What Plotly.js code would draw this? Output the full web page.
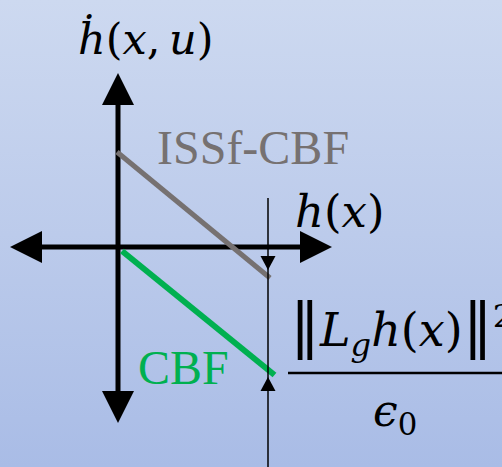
<!DOCTYPE html>
<html>
<head>
<meta charset="utf-8">
<script src="https://cdn.plot.ly/plotly-3.0.1.min.js"></script>
<style>
  html, body { margin: 0; padding: 0; }
  body { width: 502px; height: 467px; overflow: hidden;
         background: linear-gradient(to bottom, #cdd9f0 0%, #bccbeb 50%, #a9bce6 100%); }
  #chart { width: 502px; height: 467px; }
</style>
</head>
<body>
<div id="chart"></div>
<script>
// Phase-plane sketch: h(x) on the horizontal axis, its time derivative on the vertical.
// One unit on either axis is 100 px at this size.

// coordinate axes (tip to tip)
const hAxisX = [-1.08, 2.14];
const vAxisY = [-1.76, 1.74];

// lower bound on dh/dt as a function of h, for each condition
const issfX = [-0.01, 1.52];
const issfY = [0.95, -0.31];
const cbfX  = [0.04, 1.565];
const cbfY  = [-0.04, -1.28];

// marker line for a given h, with the gap between the two bounds
const markX = 1.50;
const markY = [0.49, -2.30];
const gapTop = -0.23;    // tip of the downward arrow
const gapBottom = -1.30; // tip of the upward arrow

// labels
const labelDeriv = '<i>ḣ</i>(<i>x</i>,\u2009<i>u</i>)';
const labelH = '<i>h</i>(<i>x</i>)';
const labelIssf = 'ISSf-CBF';
const labelCbf = 'CBF';
const bars = '<span style="font-size:60px">‖</span>';
const fracNum = bars + '<i>L</i><sub><i>g</i></sub><i>h</i>(<i>x</i>)' + bars + '<sup>2</sup>';
const fracDen = '<i>ϵ</i><sub>0</sub>';

const HEAD_LEN = 0.32, HEAD_HW = 0.16;      // axis arrowheads
const SMALL_LEN = 0.14, SMALL_HW = 0.075;   // gap arrowheads

function tri(tx, ty, dx, dy, len, hw) {
  // arrowhead with its tip at (tx,ty) pointing along (dx,dy)
  const bx = tx - dx * len, by = ty - dy * len;
  const px = -dy * hw, py = dx * hw;
  return {
    type: 'path', xref: 'x', yref: 'y',
    path: `M${tx},${ty} L${bx + px},${by + py} L${bx - px},${by - py} Z`,
    fillcolor: '#000', line: {width: 0}, layer: 'above'
  };
}

const black = '#000000';
const traces = [
  // horizontal axis shaft
  {x: [hAxisX[0] + HEAD_LEN, hAxisX[1] - HEAD_LEN], y: [0, 0], mode: 'lines',
   line: {color: black, width: 5}},
  // vertical axis shaft
  {x: [0, 0], y: [vAxisY[0] + HEAD_LEN, vAxisY[1] - HEAD_LEN], mode: 'lines',
   line: {color: black, width: 5}},
  // ISSf-CBF bound
  {x: issfX, y: issfY, mode: 'lines', line: {color: '#767171', width: 5}},
  // CBF bound
  {x: cbfX, y: cbfY, mode: 'lines', line: {color: '#00b050', width: 6}},
  // marker line
  {x: [markX, markX], y: markY, mode: 'lines', line: {color: black, width: 1.5}}
];

const shapes = [
  tri(hAxisX[0], 0, -1, 0, HEAD_LEN, HEAD_HW),
  tri(hAxisX[1], 0, 1, 0, HEAD_LEN, HEAD_HW),
  tri(0, vAxisY[1], 0, 1, HEAD_LEN, HEAD_HW),
  tri(0, vAxisY[0], 0, -1, HEAD_LEN, HEAD_HW),
  tri(markX, gapTop, 0, -1, SMALL_LEN, SMALL_HW),
  tri(markX, gapBottom, 0, 1, SMALL_LEN, SMALL_HW),
  // fraction bar
  {type: 'line', xref: 'x', yref: 'y', x0: 1.70, x1: 3.90, y0: -1.26, y1: -1.26,
   line: {color: black, width: 2.5}}
];

const mathFont = {family: 'DejaVu Serif', color: black};
const textFont = {family: 'Liberation Serif', size: 48};

const annotations = [
  {x: 0.28, y: 2.08, text: labelDeriv, font: Object.assign({size: 43}, mathFont)},
  {x: 2.22, y: 0.36, text: labelH, font: Object.assign({size: 45}, mathFont)},
  {x: 1.35, y: 1.00, text: labelIssf, font: Object.assign({color: '#767171'}, textFont)},
  {x: 0.65, y: -1.20, text: labelCbf, font: Object.assign({color: '#00b050'}, textFont)},
  {x: 1.70, y: -0.80, xanchor: 'left', text: fracNum, font: Object.assign({size: 46}, mathFont)},
  {x: 2.77, y: -1.66, text: fracDen, font: Object.assign({size: 44}, mathFont)}
].map(a => Object.assign({xref: 'x', yref: 'y', showarrow: false}, a));

const layout = {
  width: 502, height: 467,
  margin: {l: 0, r: 0, t: 0, b: 0},
  paper_bgcolor: 'rgba(0,0,0,0)', plot_bgcolor: 'rgba(0,0,0,0)',
  showlegend: false,
  xaxis: {range: [-1.18, 3.84], visible: false, fixedrange: true},
  yaxis: {range: [-2.20, 2.47], visible: false, fixedrange: true},
  shapes: shapes,
  annotations: annotations
};

Plotly.newPlot('chart', traces, layout, {staticPlot: true, displayModeBar: false});
</script>
</body>
</html>
